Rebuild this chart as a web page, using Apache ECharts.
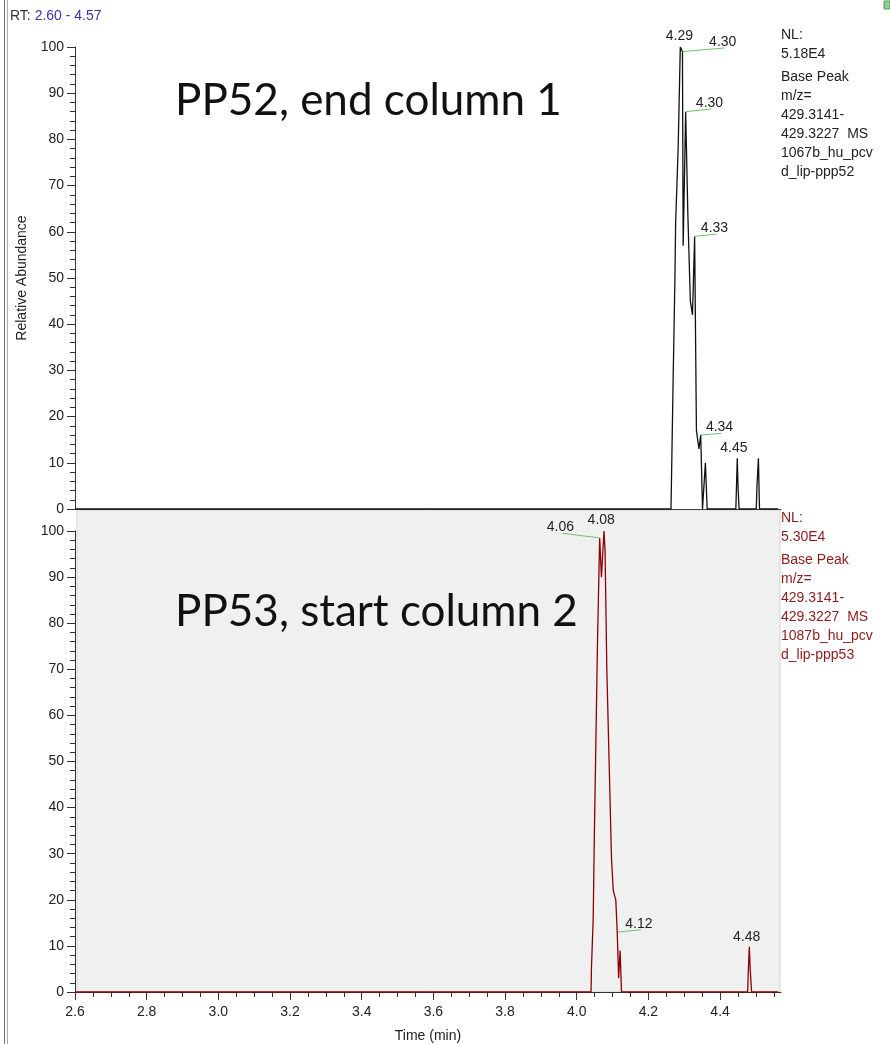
<!DOCTYPE html>
<html>
<head>
<meta charset="utf-8">
<script src="https://cdn.jsdelivr.net/npm/echarts@6/dist/echarts.min.js"></script>
<style>
  html, body { margin: 0; padding: 0; background: #fff; }
  #chart { width: 890px; height: 1044px; }
</style>
</head>
<body>
<div id="chart"></div>
<script>
// axis ranges (RT window in minutes, relative abundance in %)
const rtMin = 2.6
const rtMax = 4.57
const rtStep = 0.2
const rtMajorTicks = [2.6, 2.8, 3.0, 3.2, 3.4, 3.6, 3.8, 4.0, 4.2, 4.4]
const rtMinorTicks = [2.65, 2.7, 2.75, 2.85, 2.9, 2.95, 3.05, 3.1, 3.15, 3.25, 3.3, 3.35, 3.45, 3.5, 3.55,
  3.65, 3.7, 3.75, 3.85, 3.9, 3.95, 4.05, 4.1, 4.15, 4.25, 4.3, 4.35, 4.45, 4.5, 4.55]
const abundMax = 100
const abundStep = 10

// PP52 base peak trace, end of column 1
const pp52Time = [2.60, 4.263, 4.265, 4.269, 4.274, 4.276, 4.283, 4.289, 4.295, 4.297, 4.304, 4.310, 4.317, 4.323, 4.329,
  4.334, 4.341, 4.346, 4.351, 4.359, 4.364, 4.444, 4.448, 4.450, 4.453, 4.501, 4.503, 4.507, 4.510, 4.562]
const pp52Abund = [0, 0, 9, 28, 50, 62, 78, 100, 99, 57, 86, 64, 45, 42, 59,
  17, 13, 16, 0, 10, 0, 0, 11, 5, 0, 0, 5, 11, 0, 0]

// PP53 base peak trace, start of column 2
const pp53Time = [2.60, 4.040, 4.041, 4.046, 4.049, 4.058, 4.064, 4.069, 4.076, 4.079, 4.084, 4.097, 4.102,
  4.109, 4.113, 4.115, 4.117, 4.121, 4.125, 4.477, 4.479, 4.4816, 4.484, 4.488, 4.562]
const pp53Abund = [0, 0, 5, 16, 33, 76, 98.5, 90, 100, 96, 70, 29, 22,
  20, 13, 13, 3, 9, 0, 0, 5, 9.8, 5, 0, 0]

// peak labels: text, apex, and where the label sits (data units)
const pp52PeakText = ['4.29', '4.30', '4.30', '4.33', '4.34', '4.45']
const pp52PeakTime = [4.289, 4.295, 4.304, 4.329, 4.346, 4.448]
const pp52PeakAbund = [100, 99, 86, 59, 16, 11]
const pp52LabelTime = [4.292, 4.413, 4.376, 4.390, 4.404, 4.444]
const pp52LabelAbund = [101, 99.8, 86.6, 59.5, 16.4, 11.9]
const pp52Leader = [false, true, true, true, true, false]

const pp53PeakText = ['4.06', '4.08', '4.12', '4.48']
const pp53PeakTime = [4.064, 4.076, 4.115, 4.4816]
const pp53PeakAbund = [98.5, 100, 13, 9.8]
const pp53LabelTime = [3.960, 4.074, 4.179, 4.480]
const pp53LabelAbund = [99.5, 101, 13.5, 10.7]
const pp53Leader = [true, false, true, false]

// scan header text
const pp52Info = ['NL:', '5.18E4', 'Base Peak', 'm/z=', '429.3141-', '429.3227  MS', '1067b_hu_pcv', 'd_lip-ppp52']
const pp53Info = ['NL:', '5.30E4', 'Base Peak', 'm/z=', '429.3141-', '429.3227  MS', '1087b_hu_pcv', 'd_lip-ppp53']

const FONT = '"Liberation Sans", Arial, sans-serif'

function pairs(xs, ys) {
  return xs.map((x, i) => [x, ys[i]])
}

function traceSeries(idx, xs, ys, color) {
  return {
    type: 'line',
    xAxisIndex: idx,
    yAxisIndex: idx,
    data: pairs(xs, ys),
    showSymbol: false,
    symbol: 'none',
    lineStyle: { color: color, width: 1.3 },
    z: 3
  }
}

function labelSeries(idx, texts, pt, pa, lt, la, leader) {
  return {
    type: 'custom',
    xAxisIndex: idx,
    yAxisIndex: idx,
    clip: false,
    silent: true,
    z: 4,
    data: texts.map((t, i) => [pt[i], pa[i], lt[i], la[i]]),
    encode: { x: [0, 2], y: [1, 3] },
    renderItem(params, api) {
      const i = params.dataIndex
      const p = api.coord([api.value(0), api.value(1)])
      const a = api.coord([api.value(2), api.value(3)])
      const children = []
      if (leader[i]) {
        children.push({
          type: 'line',
          shape: { x1: p[0], y1: p[1], x2: a[0], y2: a[1] },
          style: { stroke: '#6cc46c', lineWidth: 1 }
        })
      }
      children.push({
        type: 'text',
        x: a[0] - 2,
        y: a[1] + 1,
        style: {
          text: texts[i],
          font: '14px ' + FONT,
          fill: '#222',
          align: 'center',
          verticalAlign: 'bottom'
        }
      })
      return { type: 'group', children: children }
    }
  }
}

function yAxis(idx, withName) {
  return {
    type: 'value',
    gridIndex: idx,
    min: 0,
    max: abundMax,
    interval: abundStep,
    name: withName ? 'Relative Abundance' : '',
    nameLocation: 'middle',
    nameGap: 46,
    nameTextStyle: { fontFamily: FONT, fontSize: 14, color: '#222' },
    axisLine: { show: true, lineStyle: { color: '#333', width: 1 } },
    axisTick: { show: true, length: 8, lineStyle: { color: '#333' } },
    minorTick: { show: true, splitNumber: 5, length: 5, lineStyle: { color: '#333' } },
    axisLabel: { fontFamily: FONT, fontSize: 14, color: '#222', margin: 11 },
    splitLine: { show: false }
  }
}

function infoText(lines, top, color) {
  return lines.map((t, i) => ({
    type: 'text',
    left: 781,
    top: top + i * 19 + (i >= 2 ? 4 : 0),
    style: { text: t, font: '14px ' + FONT, fill: color }
  }))
}

const chart = echarts.init(document.getElementById('chart'), null, { renderer: 'canvas' })

chart.setOption({
  animation: false,
  backgroundColor: '#fff',
  grid: [
    { left: 75, top: 47, width: 706, height: 462 },
    { left: 75, top: 531, width: 706, height: 462 }
  ],
  xAxis: [
    {
      type: 'value',
      gridIndex: 0,
      min: rtMin,
      max: rtMax,
      interval: rtStep,
      axisLine: { show: true, lineStyle: { color: '#444' } },
      axisTick: { show: false },
      axisLabel: { show: false },
      splitLine: { show: false }
    },
    {
      type: 'value',
      gridIndex: 1,
      position: 'bottom',
      min: rtMin,
      max: rtMax,
      interval: rtStep,
      name: 'Time (min)',
      nameLocation: 'middle',
      nameGap: 37,
      nameTextStyle: { fontFamily: FONT, fontSize: 14, color: '#222' },
      axisLine: { show: true, lineStyle: { color: '#333' } },
      axisTick: { show: true, length: 8, customValues: rtMajorTicks, lineStyle: { color: '#333' } },
      axisLabel: {
        fontFamily: FONT, fontSize: 14, color: '#222', margin: 13,
        customValues: rtMajorTicks,
        formatter: v => v.toFixed(1)
      },
      splitLine: { show: false }
    },
    {
      // minor ticks every 0.05 min
      type: 'value',
      gridIndex: 1,
      position: 'bottom',
      min: rtMin,
      max: rtMax,
      axisLine: { show: false },
      axisTick: { show: true, length: 5, customValues: rtMinorTicks, lineStyle: { color: '#333' } },
      axisLabel: { show: false },
      splitLine: { show: false }
    }
  ],
  yAxis: [yAxis(0, true), yAxis(1, false)],
  graphic: [
    // shaded panel behind the second trace
    {
      type: 'rect', z: -1,
      shape: { x: 77, y: 510, width: 703, height: 482 },
      style: { fill: '#f0f0f0', stroke: '#d4d4d4', lineWidth: 1 }
    },
    // window frame on the left
    { type: 'line', shape: { x1: 4.5, y1: 0, x2: 4.5, y2: 1044 }, style: { stroke: '#777', lineWidth: 1 } },
    { type: 'line', shape: { x1: 7.5, y1: 0, x2: 7.5, y2: 1044 }, style: { stroke: '#aaa', lineWidth: 1 } },
    { type: 'rect', shape: { x: 884, y: 1, width: 6, height: 8 }, style: { fill: '#8fd08f', stroke: '#5a9a5a' } },
    {
      type: 'text', left: 10, top: 9,
      style: {
        text: '{a|RT:} {b|2.60 - 4.57}',
        font: '14px ' + FONT,
        rich: {
          a: { fill: '#333', font: '14px ' + FONT },
          b: { fill: '#3535a8', font: '14px ' + FONT }
        }
      }
    },
    {
      type: 'text', left: 175, top: 79,
      style: { text: 'PP52, end column 1', font: '44px Lato, "Open Sans", sans-serif', fill: '#111' }
    },
    {
      type: 'text', left: 175, top: 590,
      style: { text: 'PP53, start column 2', font: '44px Lato, "Open Sans", sans-serif', fill: '#111' }
    },
    ...infoText(pp52Info, 28, '#222'),
    ...infoText(pp53Info, 511, '#8b1a1a')
  ],
  series: [
    traceSeries(0, pp52Time, pp52Abund, '#111'),
    traceSeries(1, pp53Time, pp53Abund, '#8b0000'),
    labelSeries(0, pp52PeakText, pp52PeakTime, pp52PeakAbund, pp52LabelTime, pp52LabelAbund, pp52Leader),
    labelSeries(1, pp53PeakText, pp53PeakTime, pp53PeakAbund, pp53LabelTime, pp53LabelAbund, pp53Leader)
  ]
})
</script>
</body>
</html>
